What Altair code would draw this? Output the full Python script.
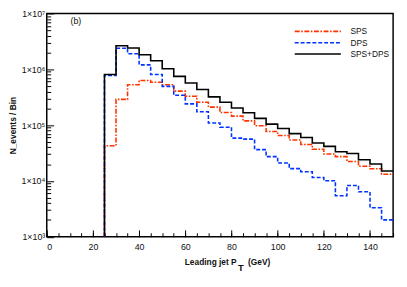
import altair as alt
import pandas as pd

# ---- data ----
pt_low = [25, 30, 35, 40, 45, 50, 55, 60, 65, 70, 75, 80, 85, 90, 95,
          100, 105, 110, 115, 120, 125, 130, 135, 140, 145]
bin_width = 5
sps = [4.26e4, 2.89e5, 5.29e5, 6.32e5, 5.84e5, 5.29e5, 4.06e5, 3.29e5, 2.56e5,
       2.10e5, 1.68e5, 1.45e5, 1.19e5, 9.77e4, 7.70e4, 6.50e4, 5.40e4, 4.50e4,
       3.69e4, 3.03e4, 2.72e4, 2.23e4, 1.83e4, 1.65e4, 1.32e4]
dps = [7.76e5, 2.38e6, 1.90e6, 1.20e6, 8.08e5, 4.94e5, 3.42e5, 2.40e5, 1.73e5,
       1.09e5, 9.17e4, 5.84e4, 5.61e4, 3.63e4, 2.72e4, 2.09e4, 1.66e4, 1.46e4,
       1.15e4, 1.01e4, 5.43e3, 8.30e3, 6.37e3, 3.30e3, 2.00e3]
total = [8.08e5, 2.65e6, 2.41e6, 1.82e6, 1.42e6, 1.02e6, 7.46e5, 5.66e5, 4.34e5,
         3.20e5, 2.56e5, 2.02e5, 1.66e5, 1.32e5, 1.04e5, 8.68e4, 7.03e4, 6.00e4,
         4.79e4, 4.16e4, 3.32e4, 3.10e4, 2.39e4, 2.01e4, 1.50e4]
series_names = ["SPS", "DPS", "SPS+DPS"]
x_major = [0, 20, 40, 60, 80, 100, 120, 140]
x_minor = list(range(0, 151, 5))
y_major = [1e3, 1e4, 1e5, 1e6, 1e7]
y_minor = [k * 10 ** e for e in range(3, 7) for k in range(2, 10)]
panel_label = ["(b)"]

# ---- styles ----
colors = ["#ff3300", "#0033ff", "#000000"]
dashes = [[5, 1.6, 1.6, 1.6], [4, 2], [1, 0]]
widths = [1.6, 1.6, 2.2]
FONT = "Liberation Sans"
Y_FLOOR = y_major[0]

rows = []
for name, vals in zip(series_names, [sps, dps, total]):
    rows.append({"series": name, "pt": pt_low[0], "n": Y_FLOOR, "k": 0})
    for i, (p, v) in enumerate(zip(pt_low, vals)):
        rows.append({"series": name, "pt": p, "n": v, "k": i + 1})
    rows.append({"series": name, "pt": pt_low[-1] + bin_width, "n": vals[-1], "k": len(vals) + 1})
df = pd.DataFrame(rows)

W, H = 353, 227.5
xs = alt.Scale(domain=[0, 150], nice=False, zero=False)
ys = alt.Scale(type="log", domain=[1e3, 1e7], nice=False)

label_expr = ("datum.value <= 1000 ? '1\u00d710\u00b3' : datum.value <= 10000 ? '1\u00d710\u2074' : "
              "datum.value <= 100000 ? '1\u00d710\u2075' : datum.value <= 1000000 ? '1\u00d710\u2076' : '1\u00d710\u2077'")

leg = alt.Legend(title=None, orient="none", legendX=272, legendY=14, symbolType="M-10,0H10",
                 symbolSize=22.1, labelFontSize=8.5, labelFont=FONT, labelOffset=29,
                 rowPadding=2.5, labelColor="#111")

main = alt.Chart(df).mark_line(interpolate="step-after", clip=True).encode(
    x=alt.X("pt:Q", scale=xs, axis=alt.Axis(orient="bottom", values=x_major, ticks=False, domain=False,
                                            grid=False, labelPadding=6, labelFontSize=9, labelFont=FONT,
                                            labelColor="#111", title=None)),
    y=alt.Y("n:Q", scale=ys, axis=alt.Axis(orient="left", values=y_major, labelExpr=label_expr, ticks=False,
                                           domain=False, grid=False, labelPadding=2, labelFontSize=9,
                                           labelFont=FONT, labelColor="#111",
                                           title="N_events / Bin", titleFont=FONT, titleFontSize=8.5,
                                           titleFontWeight="bold", titleAngle=270, titleX=-32,
                                           titleY=H / 2, titleAlign="center", titleBaseline="alphabetic",
                                           titleColor="#111")),
    color=alt.Color("series:N", scale=alt.Scale(domain=series_names, range=colors), legend=leg),
    strokeDash=alt.StrokeDash("series:N", scale=alt.Scale(domain=series_names, range=dashes), legend=leg),
    strokeWidth=alt.StrokeWidth("series:N", scale=alt.Scale(domain=series_names, range=widths), legend=leg),
    order=alt.Order("k:Q"),
)

def tick_layer(xv, yv, size):
    return alt.Chart(df).mark_point(opacity=0).encode(
        x=alt.X("pt:Q", scale=xs, axis=alt.Axis(orient="bottom", values=xv, labels=False, domain=False,
                                                grid=False, tickSize=size, offset=-size, tickColor="black",
                                                tickWidth=1, title=None)),
        y=alt.Y("n:Q", scale=ys, axis=alt.Axis(orient="left", values=yv, labels=False, domain=False,
                                               grid=False, tickSize=size, offset=-size, tickColor="black",
                                               tickWidth=1, title=None)),
    )

major = tick_layer(x_major, y_major, 7)
minor = tick_layer(x_minor, y_minor, 4)

lab_df = pd.DataFrame({"t": panel_label})
panel = alt.Chart(lab_df).mark_text(font=FONT, fontSize=9, color="#111", align="center", baseline="middle").encode(
    x=alt.value(29.7), y=alt.value(7.7), text="t:N")

title_df = pd.DataFrame({"a": ["Leading jet P"], "b": ["T"], "c": ["(GeV)"]})
t1 = alt.Chart(title_df).mark_text(font=FONT, fontSize=8.5, fontWeight="bold", color="#111",
                                   align="right", baseline="alphabetic").encode(
    x=alt.value(193.5), y=alt.value(256.3), text="a:N")
t2 = alt.Chart(title_df).mark_text(font=FONT, fontSize=9.5, fontWeight="bold", color="#111",
                                   align="left", baseline="alphabetic").encode(
    x=alt.value(195), y=alt.value(262.3), text="b:N")
t3 = alt.Chart(title_df).mark_text(font=FONT, fontSize=8.5, fontWeight="bold", color="#111",
                                   align="left", baseline="alphabetic").encode(
    x=alt.value(205.2), y=alt.value(256.3), text="c:N")

chart = alt.layer(main, major, minor, panel, t1, t2, t3).resolve_axis(
    x="independent", y="independent"
).properties(
    width=W, height=H, autosize=alt.AutoSizeParams(type="none"),
    padding={"left": 39.5, "top": 3, "right": 6, "bottom": 40},
).configure_view(stroke="black", strokeWidth=1.5)

chart.save("out.html", embed_options={"renderer": "svg", "actions": False})
